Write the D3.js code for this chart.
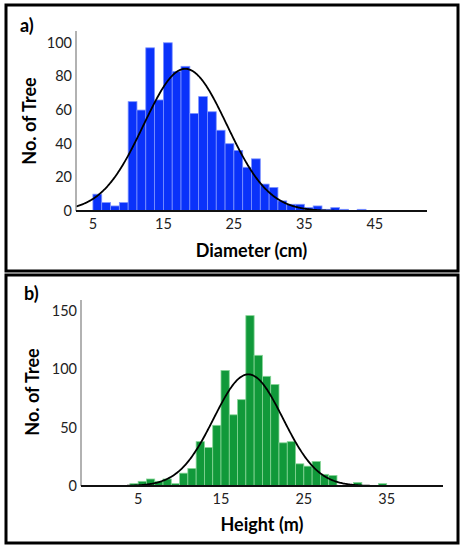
<!DOCTYPE html>
<html>
<head>
<meta charset="utf-8">
<script src="https://cdn.jsdelivr.net/npm/d3@7"></script>
<style>
  body { margin: 0; background: #fff; }
  svg { display: block; font-family: Lato, "Open Sans", sans-serif; }
</style>
</head>
<body>
<svg id="chart" width="464" height="550"></svg>
<script>
// Diameter histogram (panel a), bins 1.25 cm wide
const diamBins = [5, 6.25, 7.5, 8.75, 10, 11.25, 12.5, 13.75, 15, 16.25, 17.5, 18.75, 20, 21.25,
  22.5, 23.75, 25, 26.25, 27.5, 28.75, 30, 31.25, 32.5, 33.75, 35, 36.25, 37.5, 38.75, 40, 41.25, 42.5];
const diamCounts = [10, 5, 3, 5, 65, 60, 97, 66, 100, 83, 86, 58, 68, 59, 48, 40, 36, 26, 31, 16,
  14, 6, 4, 4, 2, 3, 1, 2, 1, 0, 1];
const diamTicks = [5, 15, 25, 35, 45];
const diamYTicks = [0, 20, 40, 60, 80, 100];
const diamFit = { mean: 18.1, sd: 5.9, n: 1000, width: 1.25 };

// Height histogram (panel b), bins 1 m wide
const heightBins = [4, 5, 6, 7, 8, 9, 10, 11, 12, 13, 14, 15, 16, 17, 18, 19, 20, 21, 22, 23, 24,
  25, 26, 27, 28, 29, 30, 31, 32, 33, 34];
const heightCounts = [2, 4, 6, 4, 6, 2, 11, 15, 38, 33, 52, 99, 61, 74, 146, 112, 94, 87, 37, 38,
  19, 17, 21, 10, 9, 0, 0, 3, 0, 0, 2];
const heightTicks = [5, 15, 25, 35];
const heightYTicks = [0, 50, 100, 150];
const heightFit = { mean: 18.3, sd: 4.17, n: 1000, width: 1 };

const svg = d3.select("#chart");

function panel(opt) {
  const g = svg.append("g");

  // frame
  g.append("rect")
    .attr("x", opt.box[0]).attr("y", opt.box[1])
    .attr("width", opt.box[2]).attr("height", opt.box[3])
    .attr("fill", "none").attr("stroke", "#000").attr("stroke-width", 3);

  g.append("text")
    .attr("x", opt.tag[0]).attr("y", opt.tag[1])
    .attr("font-size", 18).attr("font-weight", "bold")
    .text(opt.label);

  const x = d3.scaleLinear().domain(opt.xDomain).range(opt.xRange);
  const y = d3.scaleLinear().domain(opt.yDomain).range(opt.yRange);

  const data = opt.bins.map((b, i) => ({ x0: b, x1: b + opt.fit.width, n: opt.counts[i] }));

  g.selectAll("rect.bar")
    .data(data.filter(d => d.n > 0))
    .enter()
    .append("rect")
    .attr("class", "bar")
    .attr("x", d => x(d.x0))
    .attr("y", d => y(d.n))
    .attr("width", d => x(d.x1) - x(d.x0))
    .attr("height", d => y(0) - y(d.n))
    .attr("fill", opt.color)
    .attr("stroke", opt.edge)
    .attr("stroke-width", 0.8);

  // fitted normal curve
  const f = opt.fit;
  const normal = v => f.n * f.width / (f.sd * Math.sqrt(2 * Math.PI)) *
    Math.exp(-0.5 * Math.pow((v - f.mean) / f.sd, 2));
  const curve = d3.range(opt.xDomain[0], opt.xDomain[1] + 0.01, 0.1);
  g.append("path")
    .datum(curve)
    .attr("fill", "none")
    .attr("stroke", "#000")
    .attr("stroke-width", 1.8)
    .attr("d", d3.line().x(v => x(v)).y(v => y(normal(v))));

  // axes
  g.append("line")
    .attr("x1", opt.xRange[0]).attr("x2", opt.xRange[0])
    .attr("y1", opt.yRange[0]).attr("y2", opt.yRange[1])
    .attr("stroke", "#999").attr("stroke-width", 1.5);
  g.append("line")
    .attr("x1", opt.xRange[0]).attr("x2", opt.xRange[1])
    .attr("y1", y(0)).attr("y2", y(0))
    .attr("stroke", "#111").attr("stroke-width", 1.8);

  g.selectAll("text.xt")
    .data(opt.xTicks)
    .enter()
    .append("text")
    .attr("class", "xt")
    .attr("x", d => x(d))
    .attr("y", y(0) + 18)
    .attr("text-anchor", "middle")
    .attr("font-size", 14.5)
    .attr("fill", "#222")
    .text(d => d);

  g.selectAll("text.yt")
    .data(opt.yTicks)
    .enter()
    .append("text")
    .attr("class", "yt")
    .attr("x", opt.xRange[0] - 4)
    .attr("y", d => y(d) + 5)
    .attr("text-anchor", "end")
    .attr("font-size", 14.5)
    .attr("fill", "#222")
    .text(d => d);

  g.append("text")
    .attr("x", (opt.xRange[0] + opt.xRange[1]) / 2)
    .attr("y", opt.xTitleY)
    .attr("text-anchor", "middle")
    .attr("font-size", 18).attr("font-weight", "bold")
    .text(opt.xTitle);

  g.append("text")
    .attr("transform", `translate(${opt.yTitle[0]},${opt.yTitle[1]}) rotate(-90)`)
    .attr("text-anchor", "middle")
    .attr("font-size", 18).attr("font-weight", "bold")
    .text("No. of Tree");
}

panel({
  box: [6, 5, 452, 266],
  label: "a)", tag: [20, 32],
  bins: diamBins, counts: diamCounts, fit: diamFit,
  xDomain: [2.6, 52.4], xRange: [76, 427],
  yDomain: [0, 107], yRange: [211, 31],
  xTicks: diamTicks, yTicks: diamYTicks,
  color: "#0a32fa", edge: "#7d93ff",
  xTitle: "Diameter (cm)", xTitleY: 257,
  yTitle: [36, 121]
});

panel({
  box: [6, 275, 452, 268],
  label: "b)", tag: [24, 300],
  bins: heightBins, counts: heightCounts, fit: heightFit,
  xDomain: [-1.9, 41.8], xRange: [81, 443],
  yDomain: [0, 159.4], yRange: [486, 300],
  xTicks: heightTicks, yTicks: heightYTicks,
  color: "#11993a", edge: "#86d596",
  xTitle: "Height (m)", xTitleY: 531,
  yTitle: [39, 392]
});
</script>
</body>
</html>
